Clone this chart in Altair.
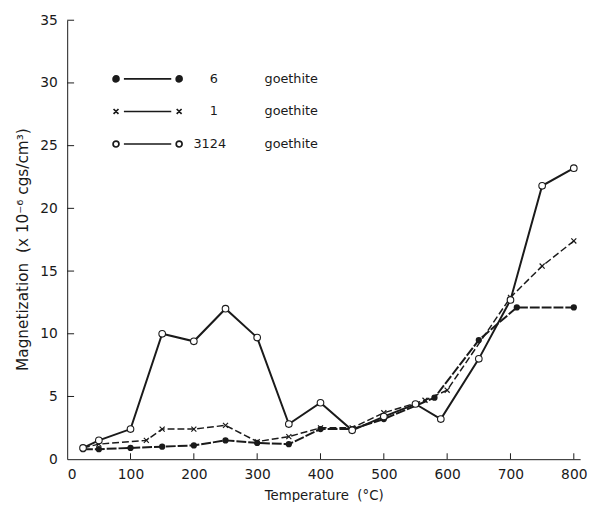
import altair as alt
import pandas as pd

# ---- data ----
series_names = ["6", "1", "3124"]

temps_6 = [25, 50, 100, 150, 200, 250, 300, 350, 400, 450, 500, 580, 650, 710, 800]
mag_6 = [0.8, 0.8, 0.9, 1.0, 1.1, 1.5, 1.3, 1.2, 2.4, 2.4, 3.2, 4.9, 9.5, 12.1, 12.1]

temps_1 = [25, 50, 125, 150, 200, 250, 300, 350, 400, 450, 500, 565, 600, 700, 750, 800]
mag_1 = [0.9, 1.2, 1.5, 2.4, 2.4, 2.7, 1.4, 1.8, 2.5, 2.5, 3.7, 4.7, 5.5, 12.9, 15.4, 17.4]

temps_3124 = [25, 50, 100, 150, 200, 250, 300, 350, 400, 450, 500, 550, 590, 650, 700, 750, 800]
mag_3124 = [0.9, 1.5, 2.4, 10.0, 9.4, 12.0, 9.7, 2.8, 4.5, 2.3, 3.4, 4.4, 3.2, 8.0, 12.7, 21.8, 23.2]

x_ticks = [0, 100, 200, 300, 400, 500, 600, 700, 800]
y_ticks = [0, 5, 10, 15, 20, 25, 30, 35]

FONT = "DejaVu Sans"
INK = "#1a1a1a"
NB = "\u00a0"

rows = []
for name, ts, ms in [("6", temps_6, mag_6), ("1", temps_1, mag_1), ("3124", temps_3124, mag_3124)]:
    for t, m in zip(ts, ms):
        rows.append({"series": name, "temp": t, "mag": m})
df = pd.DataFrame(rows)

W, H = 520, 445

x_scale = alt.Scale(domain=[0, 810], nice=False, zero=False)
y_scale = alt.Scale(domain=[0, 35], nice=False)

x_axis = alt.Axis(title="Temperature" + NB + NB + "(°C)", values=x_ticks, ticks=False, grid=False,
                  labelFontSize=14, labelFont=FONT, labelColor=INK, labelPadding=9,
                  titleFont=FONT, titleFontSize=13.5, titleFontWeight="normal",
                  titleColor=INK, titlePadding=7, domainColor=INK, domainWidth=1)
y_axis = alt.Axis(title="Magnetization" + NB + NB + "(x" + NB + "10⁻⁶" + NB + "cgs/cm³)",
                  values=y_ticks, ticks=False,
                  grid=False, labelFontSize=14, labelFont=FONT, labelColor=INK,
                  labelPadding=10, titleFont=FONT, titleFontSize=15.5,
                  titleFontWeight="normal", titleColor=INK, titlePadding=9, titleY=232,
                  domainColor=INK, domainWidth=1)

base = alt.Chart(df).encode(
    x=alt.X("temp:Q", scale=x_scale, axis=x_axis),
    y=alt.Y("mag:Q", scale=y_scale, axis=y_axis),
)

line_6 = base.transform_filter("datum.series == '6'").mark_line(
    color=INK, strokeWidth=2, strokeDash=[10, 2])
line_1 = base.transform_filter("datum.series == '1'").mark_line(
    color=INK, strokeWidth=1.5, strokeDash=[7, 3])
line_3124 = base.transform_filter("datum.series == '3124'").mark_line(
    color=INK, strokeWidth=2)

pts_6 = base.transform_filter("datum.series == '6'").mark_point(
    shape="circle", filled=True, color=INK, size=40, opacity=1)
pts_1 = base.transform_filter("datum.series == '1'").mark_point(
    shape="M-1,-1L1,1M-1,1L1,-1", filled=False, color=INK, size=26, strokeWidth=1.2, opacity=1)
pts_3124 = base.transform_filter("datum.series == '3124'").mark_point(
    shape="circle", filled=True, fill="white", stroke=INK, strokeWidth=1.1, size=45, opacity=1)

# inward tick marks
ytick_df = pd.DataFrame({"v": y_ticks[1:]})
xtick_df = pd.DataFrame({"v": x_ticks[1:]})
yticks = alt.Chart(ytick_df).mark_rule(color=INK, strokeWidth=1).encode(
    y=alt.Y("v:Q", scale=y_scale, axis=y_axis), x=alt.value(0), x2=alt.value(7))
xticks = alt.Chart(xtick_df).mark_rule(color=INK, strokeWidth=1).encode(
    x=alt.X("v:Q", scale=x_scale, axis=x_axis), y=alt.value(H), y2=alt.value(H - 6))


# legend symbols: marker - line - marker
def ring(cx, r):
    return (f"M{cx - r},0A{r},{r},0,1,1,{cx + r},0A{r},{r},0,1,1,{cx - r},0Z")


def dot(cx):
    return ring(cx, 0.6) + ring(cx, 0.4) + ring(cx, 0.2) + ring(cx, 0.05)


seg = "M-4.8,0L4.8,0"
cross_l = "M-6.9,-0.5L-5.9,0.5M-6.9,0.5L-5.9,-0.5"
cross_r = "M5.9,-0.5L6.9,0.5M5.9,0.5L6.9,-0.5"
legend_paths = [dot(-6.4) + seg + dot(6.4),
                cross_l + seg + cross_r,
                ring(-6.4, 0.6) + seg + ring(6.4, 0.6)]

zw = "\u200b"
fs = "\u2007"
es = "\u2003"
label_expr = ("'" + zw + "' + (datum.label == '3124' ? '' : '" + fs + fs + "') + datum.label + "
              "(datum.label == '3124' ? '' : '" + fs + "') + '" + es + es + es + "goethite'")

leg = alt.Legend(title=None, orient="none", legendX=75, legendY=53,
                 symbolSize=100, symbolStrokeWidth=1.7, symbolStrokeColor=INK,
                 symbolFillColor="transparent",
                 symbolOpacity=1, labelOffset=40, labelFont=FONT, labelFontSize=13,
                 labelColor=INK, labelExpr=label_expr, rowPadding=19, padding=0,
                 labelLimit=300)

legend_layer = alt.Chart(df).transform_filter("false").mark_point(
    filled=False, color=INK, strokeWidth=1.7, opacity=1).encode(
    x=alt.X("temp:Q", scale=x_scale, axis=x_axis),
    y=alt.Y("mag:Q", scale=y_scale, axis=y_axis),
    shape=alt.Shape("series:N", scale=alt.Scale(domain=series_names, range=legend_paths),
                    legend=leg),
)

chart = alt.layer(
    line_6, line_1, line_3124,
    pts_6, pts_1, pts_3124,
    yticks, xticks,
    legend_layer,
).properties(
    width=W, height=H,
    autosize=alt.AutoSizeParams(type="none"),
    padding={"left": 60, "top": 9, "right": 10, "bottom": 40},
    background="white",
).configure_view(stroke=None)

chart.save("out.html", embed_options={"renderer": "svg", "actions": False})
